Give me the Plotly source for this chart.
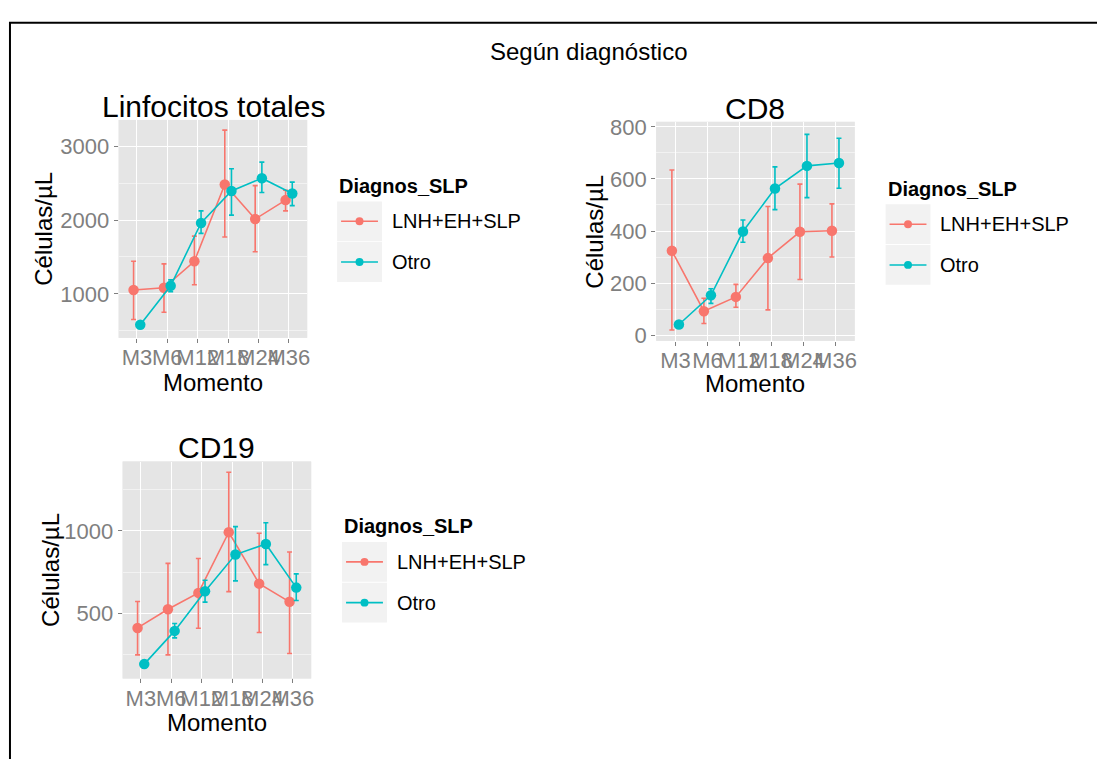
import plotly.graph_objects as go

W, H = 1100, 766

momentos = ["M3", "M6", "M12", "M18", "M24", "M36"]
grupos = ["LNH+EH+SLP", "Otro"]
colores = ["#F8766D", "#00BFC4"]

# Linfocitos totales: media y límites del intervalo
linf_lnh = [1053, 1084, 1442, 2482, 2013, 2270]
linf_lnh_sup = [1442, 1407, 1783, 3217, 2465, 2403]
linf_lnh_inf = [655, 752, 1124, 1770, 1571, 2124]
linf_otro = [584, 1111, 1960, 2394, 2566, 2358]
linf_otro_sup = [600, 1190, 2124, 2695, 2783, 2513]
linf_otro_inf = [568, 1031, 1819, 2066, 2372, 2195]

# CD8
cd8_lnh = [324, 92, 147, 296, 397, 401]
cd8_lnh_sup = [634, 142, 195, 494, 580, 504]
cd8_lnh_inf = [20, 45, 107, 97, 214, 300]
cd8_otro = [41, 153, 398, 563, 650, 661]
cd8_otro_sup = [48, 178, 442, 646, 771, 756]
cd8_otro_inf = [34, 122, 357, 482, 528, 564]

# CD19
cd19_lnh = [413, 526, 625, 992, 681, 571]
cd19_lnh_sup = [573, 804, 833, 1355, 986, 873]
cd19_lnh_inf = [250, 250, 411, 633, 385, 258]
cd19_otro = [194, 395, 635, 857, 921, 657]
cd19_otro_sup = [215, 440, 702, 1026, 1050, 740]
cd19_otro_inf = [175, 353, 569, 698, 796, 579]

# Layout of each panel in pixels: plot box, y range, titles, legend anchor
paneles = [
    dict(titulo="Linfocitos totales",
         series=[(linf_lnh, linf_lnh_sup, linf_lnh_inf), (linf_otro, linf_otro_sup, linf_otro_inf)],
         box=(119, 308, 115, 337), yrange=(406, 3355), dtick=1000,
         title_xy=(214, 101), ytitle_x=44, xtitle_y=382, legend=(338, 182)),
    dict(titulo="CD8",
         series=[(cd8_lnh, cd8_lnh_sup, cd8_lnh_inf), (cd8_otro, cd8_otro_sup, cd8_otro_inf)],
         box=(658, 857, 117, 340), yrange=(-21.5, 819), dtick=200,
         title_xy=(757, 103), ytitle_x=596, xtitle_y=384, legend=(888, 185)),
    dict(titulo="CD19",
         series=[(cd19_lnh, cd19_lnh_sup, cd19_lnh_inf), (cd19_otro, cd19_otro_sup, cd19_otro_inf)],
         box=(123, 312, 463, 684), yrange=(107, 1420), dtick=500,
         title_xy=(217, 449), ytitle_x=50, xtitle_y=729, legend=(343, 529)),
]

FONT = "Liberation Sans, Arial, sans-serif"
DODGE = 0.11


def fx(x):
    return x / W


def fy(y):
    return 1 - y / H


fig = go.Figure()
shapes = []
annotations = []

for i, p in enumerate(paneles):
    n = "" if i == 0 else str(i + 1)
    xa, ya = "x" + n, "y" + n
    x0, x1, y0, y1 = p["box"]
    for g, (vals, sup, inf) in enumerate(p["series"]):
        off = -DODGE if g == 0 else DODGE
        xs = [k + off for k in range(len(momentos))]
        fig.add_trace(go.Scatter(
            x=xs, y=vals, xaxis=xa, yaxis=ya, mode="lines+markers",
            name=grupos[g], showlegend=False,
            line=dict(color=colores[g], width=1.6),
            marker=dict(color=colores[g], size=10.5),
            error_y=dict(type="data", symmetric=False,
                         array=[s - v for s, v in zip(sup, vals)],
                         arrayminus=[v - m for v, m in zip(vals, inf)],
                         color=colores[g], thickness=1.6, width=2.5),
        ))
    axis_common = dict(showline=False, zeroline=False, ticks="outside", ticklen=4,
                       tickwidth=1, tickcolor="#7F7F7F", gridcolor="white", gridwidth=1.2,
                       tickfont=dict(family=FONT, size=22, color="#7F7F7F"))
    fig.update_layout(**{
        "xaxis" + n: dict(domain=[fx(x0), fx(x1)], anchor=ya, range=[-0.6, 5.6],
                          tickvals=list(range(len(momentos))), ticktext=momentos,
                          tickangle=0, ticklabelstandoff=-4, **axis_common),
        "yaxis" + n: dict(domain=[fy(y1), fy(y0)], anchor=xa, range=list(p["yrange"]),
                          dtick=p["dtick"], tick0=0,
                          minor=dict(dtick=p["dtick"] / 2, tick0=0, showgrid=True,
                                     gridcolor="#F2F2F2", gridwidth=0.6, ticks=""),
                          **axis_common),
    })
    shapes.append(dict(type="rect", xref="paper", yref="paper", layer="below",
                       x0=fx(x0), x1=fx(x1), y0=fy(y1), y1=fy(y0),
                       fillcolor="#E5E5E5", line=dict(width=0)))
    tx, ty = p["title_xy"]
    annotations.append(dict(text=p["titulo"], x=fx(tx), y=fy(ty), xref="paper", yref="paper",
                            showarrow=False, xanchor="center", yanchor="middle",
                            font=dict(family=FONT, size=30, color="black")))
    annotations.append(dict(text="Células/µL", x=fx(p["ytitle_x"]), y=fy((y0 + y1) / 2),
                            xref="paper", yref="paper", showarrow=False, textangle=-90,
                            xanchor="center", yanchor="middle",
                            font=dict(family=FONT, size=24, color="black")))
    annotations.append(dict(text="Momento", x=fx((x0 + x1) / 2), y=fy(p["xtitle_y"]),
                            xref="paper", yref="paper", showarrow=False,
                            xanchor="center", yanchor="middle",
                            font=dict(family=FONT, size=24, color="black")))
    # legend for the panel
    lx, ly = p["legend"]
    annotations.append(dict(text="<b>Diagnos_SLP</b>", x=fx(lx), y=fy(ly), xref="paper",
                            yref="paper", showarrow=False, xanchor="left", yanchor="middle",
                            font=dict(family=FONT, size=20, color="black")))
    for g in range(len(grupos)):
        ky0 = ly + 16 + g * 41.5
        ky1 = ky0 + 40.5
        kc = (ky0 + ky1) / 2
        shapes.append(dict(type="rect", xref="paper", yref="paper",
                           x0=fx(lx), x1=fx(lx + 45), y0=fy(ky1), y1=fy(ky0),
                           fillcolor="#F2F2F2", line=dict(width=0)))
        shapes.append(dict(type="line", xref="paper", yref="paper",
                           x0=fx(lx + 4), x1=fx(lx + 41), y0=fy(kc), y1=fy(kc),
                           line=dict(color=colores[g], width=1.6)))
        shapes.append(dict(type="circle", xref="paper", yref="paper",
                           x0=fx(lx + 22.5 - 4), x1=fx(lx + 22.5 + 4),
                           y0=fy(kc + 4), y1=fy(kc - 4),
                           fillcolor=colores[g], line=dict(width=0)))
        annotations.append(dict(text=grupos[g], x=fx(lx + 53), y=fy(kc), xref="paper",
                                yref="paper", showarrow=False, xanchor="left",
                                yanchor="middle",
                                font=dict(family=FONT, size=20, color="black")))

# outer frame (top and left edges)
shapes.append(dict(type="line", xref="paper", yref="paper", x0=fx(9), x1=1, y0=fy(16), y1=fy(16),
                   line=dict(color="black", width=2)))
shapes.append(dict(type="line", xref="paper", yref="paper", x0=fx(10), x1=fx(10), y0=0, y1=fy(16),
                   line=dict(color="black", width=2)))

annotations.append(dict(text="Según diagnóstico", x=fx(590), y=fy(45), xref="paper", yref="paper",
                        showarrow=False, xanchor="center", yanchor="middle",
                        font=dict(family=FONT, size=24, color="black")))

fig.update_layout(width=W, height=H, margin=dict(l=0, r=0, t=0, b=0),
                  paper_bgcolor="white", plot_bgcolor="#E5E5E5",
                  shapes=shapes, annotations=annotations, showlegend=False)

fig.write_html("out.html")
